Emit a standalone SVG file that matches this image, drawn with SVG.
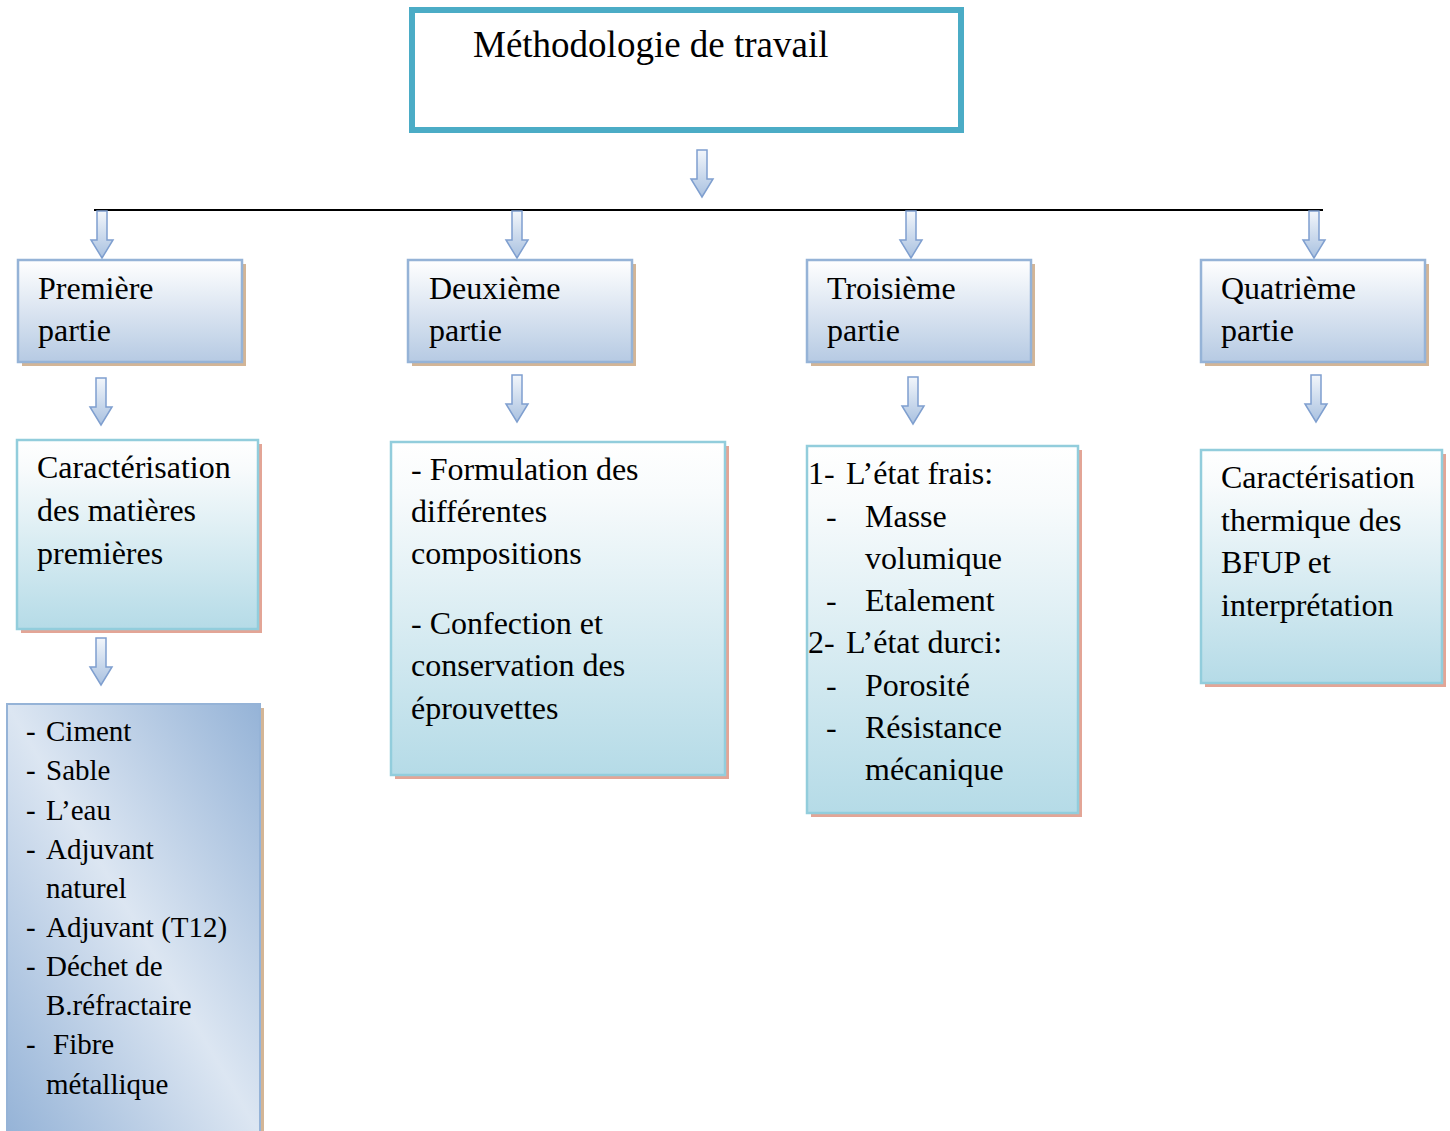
<svg xmlns="http://www.w3.org/2000/svg" width="1450" height="1131" viewBox="0 0 1450 1131">
<style>
  text { font-family: "Liberation Serif", "Times New Roman", serif; fill: #000; }
  .t32 { font-size: 32px; }
  .t29 { font-size: 29px; }
  .title { font-size: 37px; }
  .partie { fill: url(#gPartie); stroke: #95B3D7; stroke-width: 2.5; }
  .teal { fill: url(#gTeal); stroke: #92CDDC; stroke-width: 2.5; }
  .shTan { fill: #D3B596; }
  .shSalmon { fill: #E3A596; }
  .arr { fill: url(#gArrow); stroke: #7F9FCF; stroke-width: 1.5; stroke-linejoin: miter; }
</style>
<defs>
  <linearGradient id="gPartie" x1="0" y1="0" x2="0" y2="1">
    <stop offset="0" stop-color="#FFFFFF"/>
    <stop offset="1" stop-color="#B6CAE3"/>
  </linearGradient>
  <linearGradient id="gTeal" x1="0" y1="0" x2="0" y2="1">
    <stop offset="0" stop-color="#FFFFFF"/>
    <stop offset="0.15" stop-color="#F8FBFC"/>
    <stop offset="1" stop-color="#B5DBE7"/>
  </linearGradient>
  <linearGradient id="gList" x1="1" y1="0" x2="0" y2="1">
    <stop offset="0" stop-color="#95B3D7"/>
    <stop offset="0.5" stop-color="#DCE6F2"/>
    <stop offset="1" stop-color="#95B3D7"/>
  </linearGradient>
  <linearGradient id="gArrow" x1="0" y1="0" x2="0" y2="1">
    <stop offset="0" stop-color="#F2F6FB"/>
    <stop offset="1" stop-color="#A9C1E0"/>
  </linearGradient>
  <path id="arrow" class="arr" d="M-5,0 H5 V29 H11 L0,47 L-11,29 H-5 Z"/>
</defs>

<g id="connectors">
  <line x1="94" y1="210" x2="1323" y2="210" stroke="#000" stroke-width="2"/>
  <use href="#arrow" x="702" y="150"/>
  <use href="#arrow" x="102" y="211"/>
  <use href="#arrow" x="517" y="211"/>
  <use href="#arrow" x="911" y="211"/>
  <use href="#arrow" x="1314" y="211"/>
  <use href="#arrow" x="101" y="378"/>
  <use href="#arrow" x="517" y="375"/>
  <use href="#arrow" x="913" y="377"/>
  <use href="#arrow" x="1316" y="375"/>
  <use href="#arrow" x="101" y="638"/>
</g>

<g id="node-title">
  <rect x="412" y="10" width="549" height="120" fill="#FFFFFF" stroke="#4BACC6" stroke-width="6"/>
  <text class="title" x="473" y="57">Méthodologie de travail</text>
</g>

<g id="node-partie1">
  <rect class="shTan" x="22" y="264" width="224" height="102"/>
  <rect class="partie" x="18" y="260" width="224" height="102"/>
  <text class="t32" x="38" y="299">Première</text>
  <text class="t32" x="38" y="341">partie</text>
</g>
<g id="node-partie2">
  <rect class="shTan" x="412" y="264" width="224" height="102"/>
  <rect class="partie" x="408" y="260" width="224" height="102"/>
  <text class="t32" x="429" y="299">Deuxième</text>
  <text class="t32" x="429" y="341">partie</text>
</g>
<g id="node-partie3">
  <rect class="shTan" x="811" y="264" width="224" height="102"/>
  <rect class="partie" x="807" y="260" width="224" height="102"/>
  <text class="t32" x="827" y="299">Troisième</text>
  <text class="t32" x="827" y="341">partie</text>
</g>
<g id="node-partie4">
  <rect class="shTan" x="1205" y="264" width="224" height="102"/>
  <rect class="partie" x="1201" y="260" width="224" height="102"/>
  <text class="t32" x="1221" y="299">Quatrième</text>
  <text class="t32" x="1221" y="341">partie</text>
</g>

<g id="node-carac1">
  <rect class="shSalmon" x="21" y="444" width="241" height="189"/>
  <rect class="teal" x="17" y="440" width="241" height="189"/>
  <text class="t32" x="37" y="478">Caractérisation</text>
  <text class="t32" x="37" y="521">des matières</text>
  <text class="t32" x="37" y="564">premières</text>
</g>

<g id="node-liste">
  <rect class="shTan" x="11" y="708" width="253" height="430"/>
  <rect x="7" y="704" width="253" height="430" fill="url(#gList)" stroke="#95B3D7" stroke-width="2"/>
  <g class="t29">
    <text x="26" y="741">-</text><text x="46" y="741">Ciment</text>
    <text x="26" y="780">-</text><text x="46" y="780">Sable</text>
    <text x="26" y="820">-</text><text x="46" y="820">L’eau</text>
    <text x="26" y="859">-</text><text x="46" y="859">Adjuvant</text>
    <text x="46" y="898">naturel</text>
    <text x="26" y="937">-</text><text x="46" y="937">Adjuvant (T12)</text>
    <text x="26" y="976">-</text><text x="46" y="976">Déchet de</text>
    <text x="46" y="1015">B.réfractaire</text>
    <text x="26" y="1054">-</text><text x="53" y="1054">Fibre</text>
    <text x="46" y="1094">métallique</text>
  </g>
</g>

<g id="node-formulation">
  <rect class="shSalmon" x="395" y="446" width="334" height="333"/>
  <rect class="teal" x="391" y="442" width="334" height="333"/>
  <text class="t32" x="411" y="480">- Formulation des</text>
  <text class="t32" x="411" y="522">différentes</text>
  <text class="t32" x="411" y="564">compositions</text>
  <text class="t32" x="411" y="634">- Confection et</text>
  <text class="t32" x="411" y="676">conservation des</text>
  <text class="t32" x="411" y="719">éprouvettes</text>
</g>

<g id="node-etats">
  <rect class="shSalmon" x="811" y="450" width="271" height="367"/>
  <rect class="teal" x="807" y="446" width="271" height="367"/>
  <text class="t32" x="808" y="484">1-</text><text class="t32" x="846" y="484">L’état frais:</text>
  <text class="t32" x="826" y="527">-</text><text class="t32" x="865" y="527">Masse</text>
  <text class="t32" x="865" y="569">volumique</text>
  <text class="t32" x="826" y="611">-</text><text class="t32" x="865" y="611">Etalement</text>
  <text class="t32" x="808" y="653">2-</text><text class="t32" x="846" y="653">L’état durci:</text>
  <text class="t32" x="826" y="696">-</text><text class="t32" x="865" y="696">Porosité</text>
  <text class="t32" x="826" y="738">-</text><text class="t32" x="865" y="738">Résistance</text>
  <text class="t32" x="865" y="780">mécanique</text>
</g>

<g id="node-thermique">
  <rect class="shSalmon" x="1205" y="454" width="241" height="233"/>
  <rect class="teal" x="1201" y="450" width="241" height="233"/>
  <text class="t32" x="1221" y="488">Caractérisation</text>
  <text class="t32" x="1221" y="531">thermique des</text>
  <text class="t32" x="1221" y="573">BFUP et</text>
  <text class="t32" x="1221" y="616">interprétation</text>
</g>
</svg>
